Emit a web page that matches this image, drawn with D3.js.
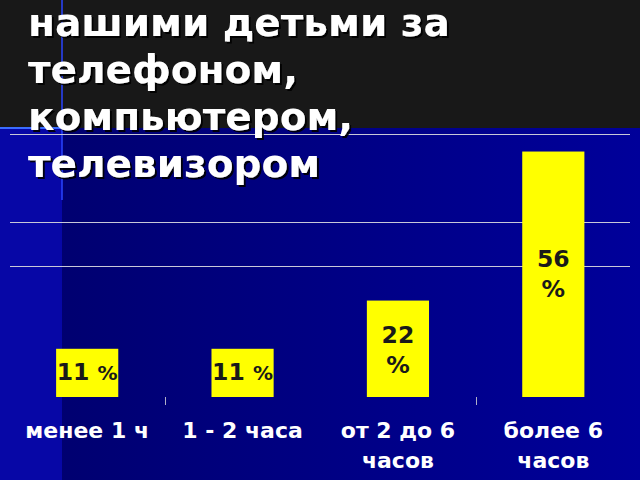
<!DOCTYPE html>
<html>
<head>
<meta charset="utf-8">
<script src="https://cdn.jsdelivr.net/npm/d3@7"></script>
<style>
	html, body { margin: 0; padding: 0; background: #000080; }
	svg { display: block; }
	text { font-family: "DejaVu Sans", Verdana, sans-serif; font-weight: bold; }
</style>
</head>
<body>
<svg id="chart" width="640" height="480"></svg>
<script>
'use strict';

var titleLines = ['нашими детьми за', 'телефоном,', 'компьютером,', 'телевизором'];
var categories = ['менее 1 ч', '1 - 2 часа', 'от 2 до 6 часов', 'более 6 часов'];
var categoryLines = [['менее 1 ч'], ['1 - 2 часа'], ['от 2 до 6', 'часов'], ['более 6', 'часов']];
var values = [11, 11, 22, 56];
var valueLabels = [['11', '%'], ['11', '%'], ['22', '%'], ['56', '%']];
var gridValues = [30, 40, 60];
var tickCategories = ['1 - 2 часа', 'более 6 часов'];

var W = 640, H = 480;
var svg = d3.select('#chart');

var defs = svg.append('defs');
var grad = defs.append('linearGradient').attr('id', 'bg')
	.attr('x1', 0).attr('x2', 1).attr('y1', 0).attr('y2', 0);
grad.append('stop').attr('offset', 0).attr('stop-color', '#00006c');
grad.append('stop').attr('offset', 1).attr('stop-color', '#00009a');

var shadow = defs.append('filter').attr('id', 'shadow')
	.attr('x', '-5%').attr('y', '-20%').attr('width', '115%').attr('height', '150%');
shadow.append('feDropShadow')
	.attr('dx', 2).attr('dy', 2).attr('stdDeviation', 0.6)
	.attr('flood-color', '#000').attr('flood-opacity', 0.9);

// background
svg.append('rect').attr('width', W).attr('height', H).attr('fill', 'url(#bg)');
svg.append('rect').attr('width', 62).attr('height', H).attr('fill', '#0707a6');
svg.append('rect').attr('width', W).attr('height', 128).attr('fill', '#181818');
svg.append('line')
	.attr('x1', 0).attr('x2', 62).attr('y1', 128).attr('y2', 128)
	.attr('stroke', '#3a6cff').attr('stroke-width', 2);
svg.append('line')
	.attr('x1', 62).attr('x2', 62).attr('y1', 0).attr('y2', 200)
	.attr('stroke', '#2a44ff').attr('stroke-width', 1.5);

// scales
var x = d3.scaleBand().domain(categories).range([9.5, 631]).paddingInner(0.6).paddingOuter(0.3);
var y = d3.scaleLinear().domain([0, 60]).range([397, 134]);
var gap = (x.step() - x.bandwidth()) / 2;

// grid
svg.append('g').selectAll('line').data(gridValues).enter().append('line')
	.attr('x1', 10).attr('x2', 630)
	.attr('y1', function (d) { return Math.round(y(d)) + 0.5; })
	.attr('y2', function (d) { return Math.round(y(d)) + 0.5; })
	.attr('stroke', '#c8c8d8').attr('stroke-width', 1);

// ticks between categories
svg.append('g').selectAll('line').data(tickCategories).enter().append('line')
	.attr('x1', function (d) { return Math.round(x(d) - gap) + 0.5; })
	.attr('x2', function (d) { return Math.round(x(d) - gap) + 0.5; })
	.attr('y1', y(0)).attr('y2', y(0) + 8)
	.attr('stroke', '#b0b0c8').attr('stroke-width', 1);

// title
svg.append('text')
	.attr('font-size', 39).attr('fill', '#fff')
	.attr('filter', 'url(#shadow)')
	.selectAll('tspan').data(titleLines).enter().append('tspan')
	.attr('x', 28)
	.attr('y', function (d, i) { return 36 + i * 47; })
	.text(function (d) { return d; });

// bars
var bars = svg.append('g').selectAll('g').data(categories).enter().append('g');

bars.append('rect')
	.attr('x', function (d) { return x(d); })
	.attr('y', function (d, i) { return y(values[i]); })
	.attr('width', x.bandwidth())
	.attr('height', function (d, i) { return y(0) - y(values[i]); })
	.attr('fill', '#ffff00');

bars.each(function (d, i) {
	var g = d3.select(this);
	var cx = x(d) + x.bandwidth() / 2;
	var top = y(values[i]);
	var lines = valueLabels[i];

	// short bars keep number and sign on one line
	if (values[i] < 15) {
		var t = g.append('text')
			.attr('x', cx).attr('y', top + 31)
			.attr('text-anchor', 'middle').attr('fill', '#1a1a1a');
		t.append('tspan').attr('font-size', 23.5).text(lines[0] + ' ');
		t.append('tspan').attr('font-size', 20).text(lines[1]);
	} else {
		var base = values[i] > 40 ? top + 115 : top + 42;
		lines.forEach(function (l, j) {
			g.append('text')
				.attr('x', cx).attr('y', base + j * 30)
				.attr('text-anchor', 'middle').attr('fill', '#1a1a1a')
				.attr('font-size', 23.5)
				.text(l);
		});
	}

	categoryLines[i].forEach(function (l, j) {
		g.append('text')
			.attr('x', cx).attr('y', 438 + j * 30)
			.attr('text-anchor', 'middle').attr('fill', '#fff')
			.attr('font-size', 22)
			.text(l);
	});
});
</script>
</body>
</html>
